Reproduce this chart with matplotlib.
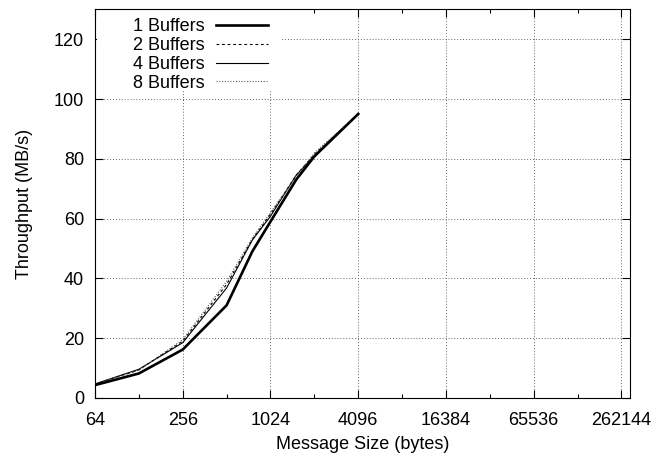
import numpy as np
import matplotlib
matplotlib.use("Agg")
import matplotlib.pyplot as plt
from matplotlib.ticker import FixedLocator, NullFormatter
from matplotlib.patches import Rectangle

plt.rcParams['font.family'] = ['Liberation Sans', 'DejaVu Sans']
plt.rcParams['font.size'] = 13

# message sizes (bytes)
sizes = [64, 128, 256, 512, 768, 1024, 1536, 2048, 4096]

# throughput (MB/s) per buffer count
buf1 = [4.3, 8.2, 16.2, 31.0, 49.0, 59.0, 73.0, 80.8, 95.0]
buf2 = [4.6, 9.4, 19.0, 38.0, 53.0, 61.5, 74.5, 81.5, 95.0]
buf4 = [4.7, 9.6, 18.5, 36.8, 52.8, 60.8, 74.5, 81.0, 95.0]
buf8 = [4.6, 9.3, 19.5, 39.0, 53.5, 62.0, 74.0, 82.0, 95.0]

xticks = [64, 256, 1024, 4096, 16384, 65536, 262144]
xminor = [128, 512, 2048, 8192, 32768, 131072]
yticks = [0, 20, 40, 60, 80, 100, 120]

fig = plt.figure(figsize=(6.56, 4.61), dpi=100)
ax = fig.add_axes([0.1448, 0.1367, 0.9604 - 0.1448, 0.9798 - 0.1367])

ax.plot(sizes, buf1, color='black', lw=1.9, label='1 Buffers', zorder=4)
ax.plot(sizes, buf2, color='black', lw=0.8, ls=(0, (2.5, 2.5)), label='2 Buffers', zorder=3)
ax.plot(sizes, buf4, color='black', lw=0.8, label='4 Buffers', zorder=3)
ax.plot(sizes, buf8, color='0.35', lw=0.8, ls=(0, (1, 1.5)), label='8 Buffers', zorder=3)

ax.set_xscale('log', base=2)
ax.set_xlim(64, 300000)
ax.set_ylim(0, 130)
ax.xaxis.set_major_locator(FixedLocator(xticks))
ax.xaxis.set_minor_locator(FixedLocator(xminor))
ax.xaxis.set_minor_formatter(NullFormatter())
ax.set_xticklabels([str(v) for v in xticks])
ax.set_yticks(yticks)

ax.tick_params(which='both', direction='in', top=True, right=True, labelsize=13)
ax.tick_params(which='major', length=6, width=0.8)
ax.tick_params(which='minor', length=3, width=0.8)
ax.tick_params(axis='x', pad=10)
ax.tick_params(axis='y', pad=8)

ax.grid(True, which='major', color='0.4', ls=(0, (1, 2)), lw=0.7)
ax.set_axisbelow(True)

# blank area behind the key, like gnuplot does
ax.add_patch(Rectangle((0.004, 0.792), 0.344, 0.205, transform=ax.transAxes,
                       facecolor='white', edgecolor='none', zorder=1.5))

ax.set_xlabel('Message Size (bytes)', labelpad=5)
ax.set_ylabel('Throughput (MB/s)', labelpad=15)

leg = ax.legend(loc='upper left', bbox_to_anchor=(0.071, 0.977), markerfirst=False,
                frameon=False, handlelength=2.85, handletextpad=0.65,
                labelspacing=0.1, borderpad=0, borderaxespad=0)

fig.savefig('out.png', dpi=100)
